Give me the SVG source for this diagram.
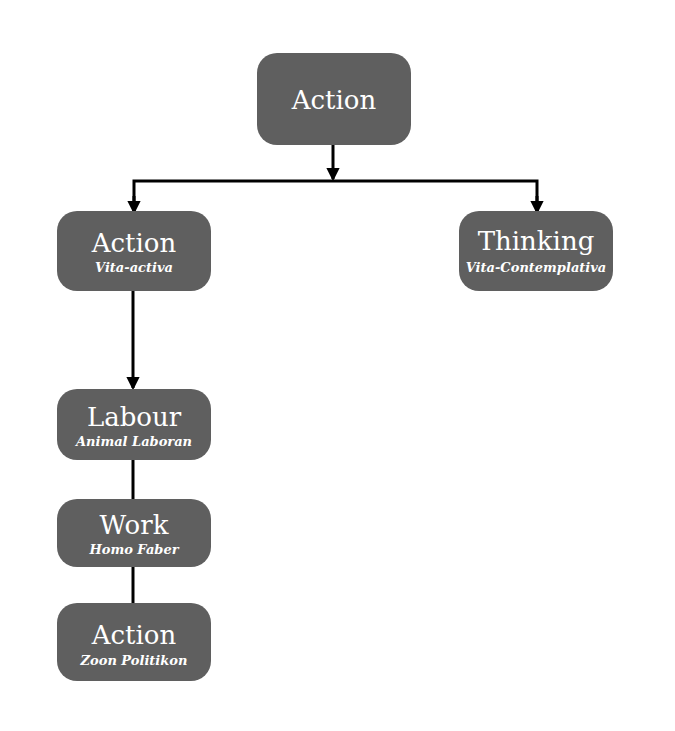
<svg xmlns="http://www.w3.org/2000/svg" width="675" height="731" viewBox="0 0 675 731">
<style>
.box{fill:#5f5f5f;}
.t{font-family:"DejaVu Serif","Liberation Serif",serif;fill:#fff;text-anchor:middle;font-size:26px;}
.s{font-family:"DejaVu Serif","Liberation Serif",serif;fill:#fff;text-anchor:middle;font-size:13px;font-style:italic;font-weight:bold;}
.c{stroke:#000;stroke-width:3;fill:none;}
</style>
<defs>
<marker id="ah" markerWidth="4.4" markerHeight="4.4" refX="5" refY="3" orient="auto" markerUnits="strokeWidth" viewBox="0 0 6 6">
<path d="M0,0 L6,3 L0,6 z" fill="#000"/>
</marker>
</defs>
<rect width="675" height="731" fill="#fff"/>
<g id="connectors">
<path class="c" d="M333,145 V179" marker-end="url(#ah)"/>
<path class="c" d="M134,211 V181 H537 V211"/>
<path class="c" d="M134,196 V212" marker-end="url(#ah)"/>
<path class="c" d="M537,196 V212" marker-end="url(#ah)"/>
<path class="c" d="M133,290 V388" marker-end="url(#ah)"/>
<path class="c" d="M133,460 V499"/>
<path class="c" d="M133,567 V603"/>
</g>
<g id="node-action-top">
<rect class="box" x="257" y="53" width="154" height="92" rx="20"/>
<text class="t" x="334" y="109">Action</text>
</g>
<g id="node-vita-activa">
<rect class="box" x="57" y="211" width="154" height="80" rx="20"/>
<text class="t" x="134" y="252">Action</text>
<text class="s" x="134" y="272">Vita-activa</text>
</g>
<g id="node-thinking">
<rect class="box" x="459" y="211" width="154" height="80" rx="20"/>
<text class="t" x="536" y="250">Thinking</text>
<text class="s" x="536" y="272">Vita-Contemplativa</text>
</g>
<g id="node-labour">
<rect class="box" x="57" y="389" width="154" height="71" rx="20"/>
<text class="t" x="134" y="426">Labour</text>
<text class="s" x="134" y="446">Animal Laboran</text>
</g>
<g id="node-work">
<rect class="box" x="57" y="499" width="154" height="68" rx="20"/>
<text class="t" x="134" y="534">Work</text>
<text class="s" x="134" y="554">Homo Faber</text>
</g>
<g id="node-action-zoon">
<rect class="box" x="57" y="603" width="154" height="78" rx="20"/>
<text class="t" x="134" y="644">Action</text>
<text class="s" x="134" y="665">Zoon Politikon</text>
</g>
</svg>
